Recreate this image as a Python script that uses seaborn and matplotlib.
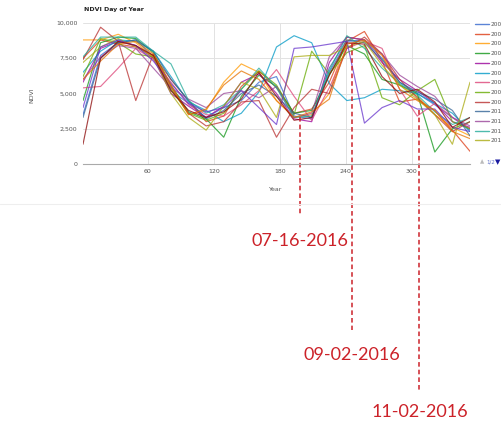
import matplotlib
matplotlib.use("Agg")
from matplotlib import pyplot as plt
from matplotlib import transforms
from matplotlib.lines import Line2D
import seaborn as sns
import pandas as pd

# Day of year of each 16-day NDVI composite
days = [1, 17, 33, 49, 65, 81, 97, 113, 129, 145, 161, 177,
        193, 209, 225, 241, 257, 273, 289, 305, 321, 337, 353]

ndvi_2001 = [3500, 7700, 8600, 8800, 7600, 5200, 4300, 3300, 4000, 4500, 5800, 6200,
             3400, 3200, 6500, 8700, 8800, 7500, 5800, 5000, 4200, 3300, 2400]
ndvi_2002 = [7500, 8800, 8500, 8300, 7700, 6000, 4500, 3000, 3400, 5500, 6600, 5400,
             3600, 3900, 5800, 8700, 9400, 7300, 4400, 4600, 3800, 2400, 900]
ndvi_2003 = [8800, 8800, 9200, 8600, 7600, 5400, 3500, 3800, 5800, 7100, 6500, 4500,
             3300, 3500, 5000, 9000, 8800, 7800, 5600, 4800, 3500, 2600, 2000]
ndvi_2004 = [4500, 8600, 9000, 8900, 7900, 5600, 3700, 3200, 1900, 4800, 6300, 5500,
             3600, 3800, 6300, 8400, 7800, 6000, 5600, 5000, 850, 2500, 3000]
ndvi_2005 = [5800, 8200, 8700, 8400, 7500, 5000, 4100, 3300, 4100, 5800, 6400, 5000,
             3200, 3000, 7200, 9000, 8800, 7200, 6000, 5200, 4300, 3000, 2600]
ndvi_2006 = [6500, 8000, 8800, 8700, 8000, 6200, 4400, 3800, 3000, 3600, 5100, 8300,
             9100, 8600, 5700, 4500, 4700, 5300, 5200, 5000, 4300, 3600, 2300]
ndvi_2007 = [5400, 5500, 6800, 8200, 7400, 5800, 4200, 3500, 3400, 4200, 5200, 6700,
             4800, 3100, 5400, 8200, 8700, 8200, 5300, 3400, 4300, 3300, 2500]
ndvi_2008 = [6200, 8900, 8600, 7800, 7600, 5300, 3600, 3100, 3600, 5300, 6600, 5600,
             3500, 8000, 6400, 7900, 8400, 4700, 4200, 5200, 6000, 3000, 2500]
ndvi_2009 = [7400, 9700, 8700, 4500, 7800, 5500, 3600, 2700, 3000, 4400, 4500, 1900,
             4000, 5300, 5000, 8200, 9000, 7800, 6000, 4700, 3500, 2300, 3000]
ndvi_2010 = [3300, 7500, 8600, 8800, 8000, 6000, 4500, 3200, 3800, 5000, 5600, 4800,
             3600, 3300, 6800, 8800, 8600, 7400, 5800, 5100, 4600, 3800, 2000]
ndvi_2011 = [6000, 7600, 8400, 8200, 6800, 5400, 4600, 4000, 5000, 5200, 4700, 5500,
             3300, 3600, 7600, 9000, 8800, 7800, 6300, 5500, 4800, 3300, 2700]
ndvi_2012 = [7600, 9000, 9000, 9000, 8000, 7100, 4500, 3600, 4200, 5300, 6800, 5400,
             3300, 3400, 6600, 9100, 8200, 6800, 5700, 4900, 3700, 2800, 3300]
ndvi_2013 = [7200, 8300, 8900, 8300, 7600, 5000, 3300, 2400, 4100, 5800, 5300, 3300,
             7600, 7700, 7700, 8300, 8700, 7000, 5600, 4600, 3500, 1400, 5800]
ndvi_2014 = [4000, 8300, 8800, 8400, 7300, 5700, 4300, 3700, 4000, 5200, 4000, 2800,
             8200, 8300, 8500, 8700, 2900, 4000, 4500, 3900, 3900, 2600, 2300]
ndvi_2015 = [6000, 7300, 8500, 8700, 7800, 5600, 3500, 3900, 5600, 6600, 6000, 4500,
             3300, 3700, 4600, 8500, 8800, 7700, 5300, 4500, 3800, 2300, 1800]
ndvi_2016 = [1400, 7500, 8700, 8400, 7700, 5200, 3800, 3300, 3700, 4600, 6500, 4800,
             3100, 3300, 6300, 8600, 8500, 6200, 5000, 5300, 4400, 2600, 3300]

years = ["2001", "2002", "2003", "2004", "2005", "2006", "2007", "2008",
         "2009", "2010", "2011", "2012", "2013", "2014", "2015", "2016"]
series = [ndvi_2001, ndvi_2002, ndvi_2003, ndvi_2004, ndvi_2005, ndvi_2006,
          ndvi_2007, ndvi_2008, ndvi_2009, ndvi_2010, ndvi_2011, ndvi_2012,
          ndvi_2013, ndvi_2014, ndvi_2015, ndvi_2016]

colors = ["#3366cc", "#dc3912", "#ff9900", "#109618", "#990099", "#0099c6",
          "#dd4477", "#66aa00", "#b82e2e", "#316395", "#994499", "#22aa99",
          "#aaaa11", "#6633cc", "#e67300", "#8b0707"]

# annotated dates (day of year 2016)
mark_days = [198, 246, 307]
mark_labels = ["07-16-2016", "09-02-2016", "11-02-2016"]
mark_tops = [3300, 8600, 3800]

rows = []
for yr, vals in zip(years, series):
    for d, v in zip(days, vals):
        rows.append({"day": d, "ndvi": v, "year": yr})
df = pd.DataFrame(rows)

sns.set_style("white")
W, H = 501, 421
fig = plt.figure(figsize=(W / 100, H / 100), dpi=100)
ax = fig.add_axes([83 / W, 1 - 164 / H, (470 - 83) / W, (164 - 23) / H])

pal = dict(zip(years, colors))
sns.lineplot(data=df, x="day", y="ndvi", hue="year", palette=pal,
             linewidth=0.85, alpha=0.75, legend=False, ax=ax)

ax.set_xlim(1, 353)
ax.set_ylim(0, 10000)
ax.set_xticks([60, 120, 180, 240, 300])
ax.set_yticks([0, 2500, 5000, 7500, 10000])
ax.set_yticklabels(["0", "2,500", "5,000", "7,500", "10,000"])
ax.tick_params(axis="both", labelsize=4.5, labelcolor="#555555", length=0)
ax.tick_params(axis="x", pad=3.5)
ax.tick_params(axis="y", pad=4)
ax.grid(True, color="#e2e2e2", linewidth=0.7)
ax.set_axisbelow(True)
for s in ["left", "right", "top"]:
    ax.spines[s].set_visible(False)
ax.spines["bottom"].set_color("#aaaaaa")
ax.spines["bottom"].set_linewidth(0.8)
ax.set_xlabel("")
ax.set_ylabel("")

fig.text(84 / W, 1 - 10 / H, "NDVI Day of Year", fontsize=4.5, fontweight="bold",
         color="#222222", va="center", ha="left")
fig.text(32 / W, 1 - 95 / H, "NDVI", fontsize=4.5, color="#555555",
         rotation=90, va="center", ha="center")
fig.text(276 / W, 1 - 190 / H, "Year", fontsize=4.5, color="#555555",
         va="center", ha="center")

# faint edge of the screenshot
fig.add_artist(Line2D([0, 1], [1 - 204 / H, 1 - 204 / H], transform=fig.transFigure,
                      color="#eeeeee", linewidth=0.8))

# legend (first page), cut by the right edge as in the screenshot
handles = [Line2D([], [], color=c, linewidth=1.0, alpha=0.8) for c in colors[:13]]
fig.legend(handles, years[:13], loc="upper left", bbox_to_anchor=(475 / W, 1 - 22 / H),
           frameon=False, fontsize=4.2, handlelength=2.4, handletextpad=0.3,
           labelspacing=0.79, borderaxespad=0, borderpad=0, labelcolor="#555555")
fig.text(480 / W, 1 - 162 / H, "\u25b2", fontsize=4, color="#bbbbbb", va="center")
fig.text(486.5 / W, 1 - 162 / H, "1/2", fontsize=4, color="#6677cc", va="center")
fig.text(495 / W, 1 - 162 / H, "\u25bc", fontsize=5, color="#1a1aa0", va="center")

# red date markers below the chart
red = "#cc2229"
blend = transforms.blended_transform_factory(ax.transData, fig.transFigure)
mark_bottoms = [216, 330, 390]
label_ys = [241, 355, 412]
for d, top, bot, lab, ly in zip(mark_days, mark_tops, mark_bottoms, mark_labels, label_ys):
    top_fig = fig.transFigure.inverted().transform(ax.transData.transform((d, top)))[1]
    ax.add_line(Line2D([d, d], [top_fig, 1 - bot / H], transform=blend, color=red,
                       linewidth=1.1, linestyle=(0, (3, 2)), clip_on=False))
    ax.text(d, 1 - ly / H, lab, transform=blend, fontsize=13, color=red,
            family=["Lato", "DejaVu Sans"], ha="center", va="center", clip_on=False)

fig.savefig("out.png", dpi=100, facecolor="white")
